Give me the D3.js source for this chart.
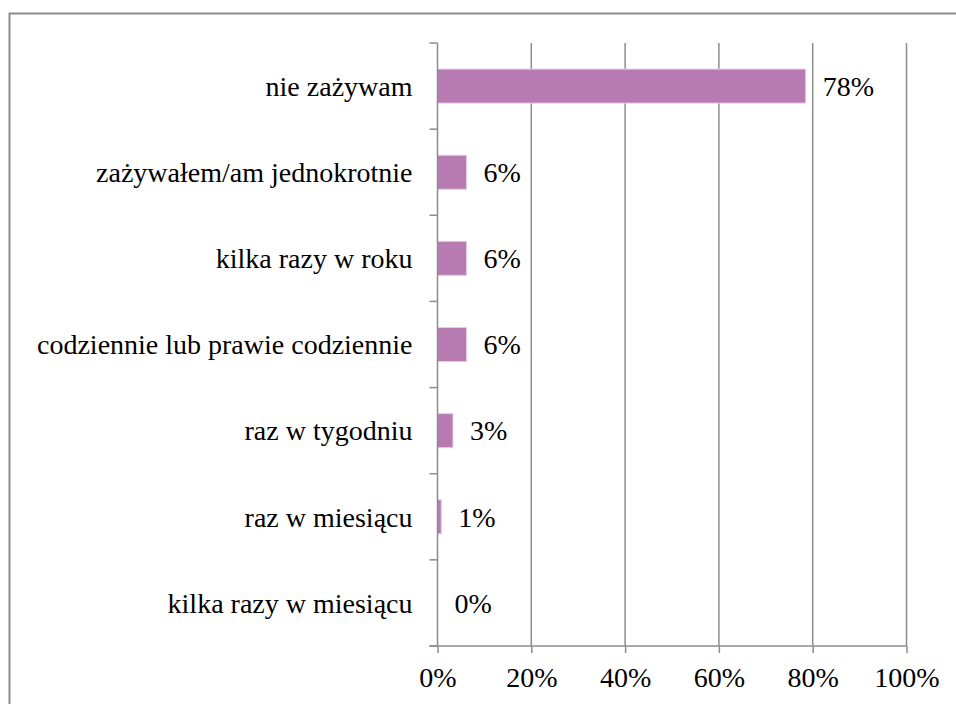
<!DOCTYPE html>
<html>
<head>
<meta charset="utf-8">
<script src="https://cdn.jsdelivr.net/npm/d3@7/dist/d3.min.js"></script>
<style>
  body { margin: 0; background: #fff; }
  svg { display: block; font-family: "Liberation Serif", "DejaVu Serif", serif; }
</style>
</head>
<body>
<div id="chart"></div>
<script>
const categories = [
  "nie zażywam",
  "zażywałem/am jednokrotnie",
  "kilka razy w roku",
  "codziennie lub prawie codziennie",
  "raz w tygodniu",
  "raz w miesiącu",
  "kilka razy w miesiącu"
];
const values = [78.5, 6.2, 6.2, 6.2, 3.3, 0.8, 0];
const labels = ["78%", "6%", "6%", "6%", "3%", "1%", "0%"];
const xTicks = [0, 20, 40, 60, 80, 100];

const W = 956, H = 704;
const margin = { top: 43, right: 49.5, bottom: 58, left: 437.5 };
const width = W - margin.left - margin.right;
const height = H - margin.top - margin.bottom;

const grid = '#8c8c8c';
const barColour = '#b77bb2';

const svg = d3.select('#chart').append('svg')
  .attr('width', W)
  .attr('height', H);

// chart frame (runs off the right and bottom edges)
svg.append('rect')
  .attr('x', 9.5).attr('y', 13.5)
  .attr('width', W + 20).attr('height', H + 20)
  .attr('fill', 'none')
  .attr('stroke', grid)
  .attr('stroke-width', 2);

const g = svg.append('g')
  .attr('transform', 'translate(' + margin.left + ',' + margin.top + ')');

const x = d3.scaleLinear().domain([0, 100]).range([0, width]);
const y = d3.scaleBand().domain(categories).range([0, height])
  .paddingInner(0.605).paddingOuter(0.3025);

// vertical gridlines
g.append('g')
  .selectAll('line')
  .data(xTicks.slice(1))
  .enter().append('line')
    .attr('x1', d => x(d)).attr('x2', d => x(d))
    .attr('y1', 0).attr('y2', height)
    .attr('stroke', grid)
    .attr('stroke-width', 1.5);

// bars
g.append('g')
  .selectAll('rect')
  .data(values)
  .enter().append('rect')
    .attr('x', x(0))
    .attr('y', (d, i) => y(categories[i]))
    .attr('width', d => x(d) - x(0))
    .attr('height', y.bandwidth())
    .attr('fill', barColour)
    .attr('stroke', d => d > 0 ? '#e6cde3' : 'none')
    .attr('stroke-width', 1);

// value labels
g.append('g')
  .selectAll('text')
  .data(values)
  .enter().append('text')
    .attr('x', d => x(d) + 17)
    .attr('y', (d, i) => y(categories[i]) + y.bandwidth() / 2)
    .attr('dy', '0.35em')
    .attr('font-size', '28px')
    .attr('fill', '#000')
    .text((d, i) => labels[i]);

// y axis: line + outward ticks at band boundaries
const step = y.step();
const yBounds = d3.range(categories.length + 1).map(i => i * height / categories.length);
g.append('line')
  .attr('x1', 0).attr('x2', 0)
  .attr('y1', 0).attr('y2', height)
  .attr('stroke', grid).attr('stroke-width', 1.5);
g.append('g')
  .selectAll('line')
  .data(yBounds)
  .enter().append('line')
    .attr('x1', -8).attr('x2', 0)
    .attr('y1', d => d).attr('y2', d => d)
    .attr('stroke', grid).attr('stroke-width', 1.5);

// category labels
g.append('g')
  .selectAll('text')
  .data(categories)
  .enter().append('text')
    .attr('x', -25)
    .attr('y', d => y(d) + y.bandwidth() / 2)
    .attr('dy', '0.35em')
    .attr('text-anchor', 'end')
    .attr('font-size', '28px')
    .attr('fill', '#000')
    .text(d => d);

// x axis
const xAxis = d3.axisBottom(x)
  .tickValues(xTicks)
  .tickSize(7)
  .tickPadding(14)
  .tickFormat(d => d + '%');
const xg = g.append('g')
  .attr('transform', 'translate(0,' + height + ')')
  .call(xAxis);
xg.select('.domain').remove();
xg.append('line')
  .attr('x1', -8).attr('x2', width)
  .attr('stroke', grid).attr('stroke-width', 1.5);
xg.selectAll('.tick line').attr('stroke', grid).attr('stroke-width', 1.5);
xg.selectAll('.tick text')
  .attr('font-family', '"Liberation Serif", "DejaVu Serif", serif')
  .attr('font-size', '28px')
  .attr('fill', '#000');
</script>
</body>
</html>
